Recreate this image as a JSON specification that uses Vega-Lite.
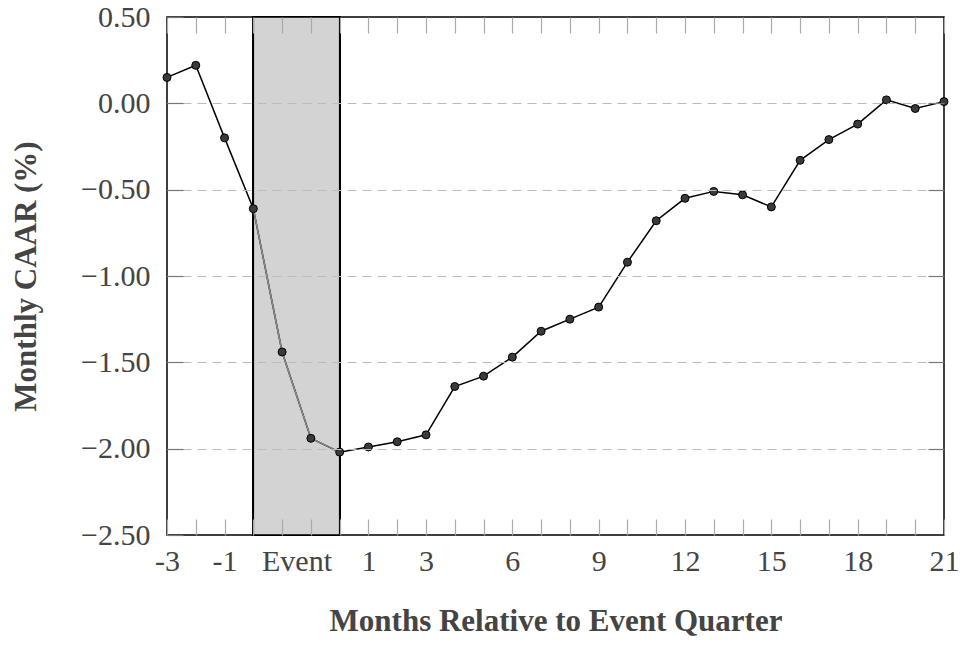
{
  "$schema": "https://vega.github.io/schema/vega-lite/v6.json",
  "width": 777,
  "height": 518,
  "autosize": "none",
  "padding": {"left": 167, "top": 17, "right": 20, "bottom": 112},
  "background": "white",
  "config": {
    "view": {"stroke": "#000", "strokeWidth": 1.5},
    "font": "Liberation Serif",
    "axis": {
      "labelFont": "Liberation Serif",
      "titleFont": "Liberation Serif",
      "labelFontSize": 30,
      "titleFontSize": 31,
      "labelColor": "#444",
      "titleColor": "#444",
      "domain": false,
      "tickColor": "#aaa",
      "tickWidth": 1.2,
      "tickSize": -16
    }
  },
  "data": {
    "values": [
      {"i": 0, "caar": 0.15},
      {"i": 1, "caar": 0.22},
      {"i": 2, "caar": -0.20},
      {"i": 3, "caar": -0.61},
      {"i": 4, "caar": -1.44},
      {"i": 5, "caar": -1.94},
      {"i": 6, "caar": -2.02},
      {"i": 7, "caar": -1.99},
      {"i": 8, "caar": -1.96},
      {"i": 9, "caar": -1.92},
      {"i": 10, "caar": -1.64},
      {"i": 11, "caar": -1.58},
      {"i": 12, "caar": -1.47},
      {"i": 13, "caar": -1.32},
      {"i": 14, "caar": -1.25},
      {"i": 15, "caar": -1.18},
      {"i": 16, "caar": -0.92},
      {"i": 17, "caar": -0.68},
      {"i": 18, "caar": -0.55},
      {"i": 19, "caar": -0.51},
      {"i": 20, "caar": -0.53},
      {"i": 21, "caar": -0.60},
      {"i": 22, "caar": -0.33},
      {"i": 23, "caar": -0.21},
      {"i": 24, "caar": -0.12},
      {"i": 25, "caar": 0.02},
      {"i": 26, "caar": -0.03},
      {"i": 27, "caar": 0.01}
    ]
  },
  "layer": [
    {
      "mark": {"type": "rect", "fill": "#d3d3d3", "stroke": "#000", "strokeWidth": 1.5},
      "encoding": {
        "x": {"datum": 3, "type": "quantitative", "scale": {"domain": [0, 27], "nice": false, "zero": false}, "axis": null},
        "x2": {"datum": 6}
      }
    },
    {
      "mark": {"type": "line", "color": "#000", "strokeWidth": 1.5},
      "encoding": {
        "x": {
          "field": "i", "type": "quantitative",
          "scale": {"domain": [0, 27], "nice": false, "zero": false},
          "axis": {
            "orient": "bottom",
            "values": [0,1,2,3,4,5,6,7,8,9,10,11,12,13,14,15,16,17,18,19,20,21,22,23,24,25,26,27],
            "labelExpr": "datum.value == 0 ? '-3' : datum.value == 2 ? '-1' : datum.value == 4 ? 'Event' : (datum.value == 7 || (datum.value > 7 && (datum.value - 6) % 3 == 0)) ? toString(datum.value - 6) : ''",
            "labelOffset": {"condition": {"test": "datum.value == 4", "value": 14.4}, "value": 0},
            "labelOverlap": false,
            "labelFlush": false,
            "labelPadding": 27,
            "grid": false,
            "title": "Months Relative to Event Quarter",
            "titleFontWeight": "bold",
            "titlePadding": 30,
            "zindex": 1
          }
        },
        "y": {
          "field": "caar", "type": "quantitative",
          "scale": {"domain": [-2.5, 0.5], "nice": false, "zero": false},
          "axis": {
            "orient": "left",
            "values": [-2.5, -2, -1.5, -1, -0.5, 0, 0.5],
            "labelExpr": "datum.value < 0 ? '\u2212' + format(-datum.value, '.2f') : format(datum.value, '.2f')",
            "labelPadding": 33,
            "labelFlush": false,
            "grid": true,
            "gridColor": {"condition": {"test": "datum.value == -2.5 || datum.value == 0.5", "value": "transparent"}, "value": "#bbb"},
            "gridDash": [9, 6],
            "gridWidth": 1.2,
            "tickColor": "#777",
            "title": "Monthly CAAR (%)",
            "titleFontWeight": "bold",
            "titlePadding": 38,
            "zindex": 1
          }
        }
      }
    },
    {
      "transform": [{"filter": "datum.i >= 3 && datum.i <= 6"}],
      "mark": {"type": "line", "color": "#888", "strokeWidth": 1.5},
      "encoding": {
        "x": {"field": "i", "type": "quantitative", "axis": null},
        "y": {"field": "caar", "type": "quantitative", "axis": null}
      }
    },
    {
      "mark": {"type": "point", "filled": true, "fill": "#3a3a3a", "stroke": "#000", "strokeWidth": 1, "size": 64, "opacity": 1},
      "encoding": {
        "x": {
          "field": "i", "type": "quantitative",
          "axis": {
            "orient": "top",
            "values": [0,1,2,3,4,5,6,7,8,9,10,11,12,13,14,15,16,17,18,19,20,21,22,23,24,25,26,27],
            "labels": false, "grid": false, "title": null, "zindex": 1
          }
        },
        "y": {
          "field": "caar", "type": "quantitative",
          "axis": {
            "orient": "right",
            "values": [-2, -1.5, -1, -0.5, 0],
            "labels": false, "grid": false, "title": null, "tickColor": "#777", "zindex": 1
          }
        }
      }
    }
  ],
  "resolve": {"axis": {"x": "independent", "y": "independent"}}
}
